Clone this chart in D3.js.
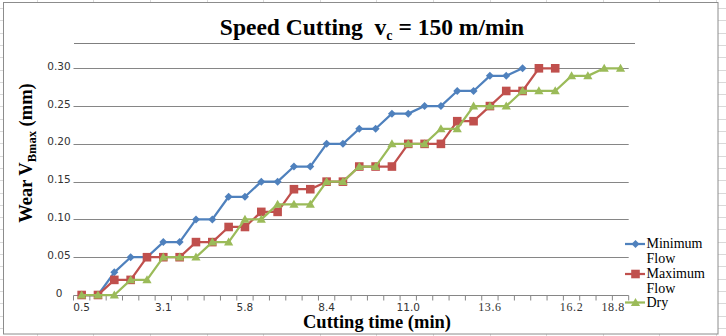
<!DOCTYPE html>
<html><head><meta charset="utf-8">
<script src="https://cdn.jsdelivr.net/npm/d3@7"></script>
<style>body{margin:0;background:#fff;} svg{display:block} text{white-space:pre}</style>
</head><body><svg id="c" width="726" height="336"></svg>
<script>
// ---- data ----
const categories = [0.5,1.0,1.6,2.1,2.6,3.1,3.6,4.2,4.7,5.2,5.8,6.3,6.8,7.3,7.9,8.4,8.9,9.4,10.0,10.5,11.0,11.5,12.0,12.6,13.1,13.6,14.1,14.7,15.2,15.7,16.2,16.7,17.3,17.8];
const minimumFlow = [0,0,0.03,0.05,0.05,0.07,0.07,0.10,0.10,0.13,0.13,0.15,0.15,0.17,0.17,0.20,0.20,0.22,0.22,0.24,0.24,0.25,0.25,0.27,0.27,0.29,0.29,0.30];
const maximumFlow = [0,0,0.02,0.02,0.05,0.05,0.05,0.07,0.07,0.09,0.09,0.11,0.11,0.14,0.14,0.15,0.15,0.17,0.17,0.17,0.20,0.20,0.20,0.23,0.23,0.25,0.27,0.27,0.30,0.30];
const dry = [0,0,0,0.02,0.02,0.05,0.05,0.05,0.07,0.07,0.10,0.10,0.12,0.12,0.12,0.15,0.15,0.17,0.17,0.20,0.20,0.20,0.22,0.22,0.25,0.25,0.25,0.27,0.27,0.27,0.29,0.29,0.30,0.30];
const seriesNames = ["Minimum Flow","Maximum Flow","Dry"];
const yTicks = [0,0.05,0.10,0.15,0.20,0.25,0.30];
const yTickLabels = ["0","0.05","0.10","0.15","0.20","0.25","0.30"];
const xTickLabels = ["0.5","3.1","5.8","8.4","11.0","13.6","16.2","18.8"];
const xTickAt = [0,5,10,15,20,25,30,32.55];

// ---- drawing ----
const svg = d3.select("#c");
const W = 726, H = 336;
const plot = {l:73.5, r:628.7, t:68.3, b:295};
const x = d3.scaleLinear().domain([-0.5, categories.length-0.5]).range([plot.l, plot.r]);
const y = d3.scaleLinear().domain([0, 0.30]).range([plot.b, plot.t]);
const SANS = "'DejaVu Sans',Verdana,sans-serif";
const SERIF = "'Liberation Serif','Times New Roman',serif";
const serifFrom = 5;

svg.append("rect").attr("width",W).attr("height",H).attr("fill","#fff");

// faint worksheet cell lines outside the chart frame
const rowYs = d3.range(8, H, 12.3);
const colXs = d3.range(36.7, W, 56.6);
const sheet = svg.append("g").attr("stroke","#d9d9d9").attr("stroke-width",1);
rowYs.forEach(v=>{
  sheet.append("line").attr("x1",0).attr("x2",3).attr("y1",Math.round(v)+0.5).attr("y2",Math.round(v)+0.5);
  sheet.append("line").attr("x1",718).attr("x2",W).attr("y1",Math.round(v)+0.5).attr("y2",Math.round(v)+0.5);
});
colXs.forEach(v=>{
  sheet.append("line").attr("y1",0).attr("y2",2).attr("x1",Math.round(v)+0.5).attr("x2",Math.round(v)+0.5);
  sheet.append("line").attr("y1",334).attr("y2",H).attr("x1",Math.round(v)+0.5).attr("x2",Math.round(v)+0.5);
});

// outer chart border
svg.append("rect").attr("x",3.5).attr("y",2.5).attr("width",714.5).attr("height",331.5)
  .attr("fill","none").attr("stroke","#8c8c8c").attr("stroke-width",1);

// title
const title = svg.append("text").attr("x",372).attr("y",35)
  .attr("text-anchor","middle").attr("font-family",SERIF)
  .attr("font-weight","bold").attr("font-size",23.5).attr("fill","#000");
title.append("tspan").text("Speed Cutting  v");
title.append("tspan").attr("font-size",14).attr("dy",5).text("c");
title.append("tspan").attr("dy",-5).text(" = 150 m/min");
svg.append("line").attr("x1",74).attr("x2",635).attr("y1",43.5).attr("y2",43.5)
  .attr("stroke","#7f7f7f").attr("stroke-width",1);

// gridlines
svg.append("g").selectAll("line").data(yTicks.slice(1)).join("line")
  .attr("x1",plot.l).attr("x2",plot.r)
  .attr("y1",d=>Math.round(y(d))+0.5).attr("y2",d=>Math.round(y(d))+0.5)
  .attr("stroke","#868686").attr("stroke-width",1);

// y labels
svg.append("g").selectAll("text").data(yTicks).join("text")
  .attr("x",59).attr("y",d=>y(d)+1.5).attr("text-anchor","middle")
  .attr("font-family",SANS).attr("font-size",10.5).attr("fill","#333")
  .text((d,i)=>yTickLabels[i]);

// x axis line and ticks
const ay = Math.round(plot.b)+0.5;
svg.append("line").attr("x1",plot.l).attr("x2",plot.r).attr("y1",ay).attr("y2",ay)
  .attr("stroke","#868686").attr("stroke-width",1);
svg.append("g").selectAll("line").data(d3.range(categories.length+1)).join("line")
  .attr("x1",d=>x(d-0.5)).attr("x2",d=>x(d-0.5)).attr("y1",ay).attr("y2",ay+5)
  .attr("stroke","#868686").attr("stroke-width",1);
svg.append("g").selectAll("text").data(xTickLabels).join("text")
  .attr("x",(d,i)=>x(xTickAt[i])).attr("y",(d,i)=>i>=serifFrom?311:310.5).attr("text-anchor","middle")
  .attr("font-family",(d,i)=>i>=serifFrom?SERIF:SANS).attr("font-size",(d,i)=>i>=serifFrom?12:10.5)
  .attr("letter-spacing",(d,i)=>i>=serifFrom?0.6:0).attr("fill","#333")
  .text(d=>d);

// axis titles
svg.append("text").attr("x",377).attr("y",328).attr("text-anchor","middle")
  .attr("font-family",SERIF).attr("font-weight","bold")
  .attr("font-size",18.5).attr("fill","#000").text("Cutting time (min)");
const yt = svg.append("text").attr("transform","translate(32,153) rotate(-90)").attr("text-anchor","middle")
  .attr("font-family",SERIF).attr("font-weight","bold")
  .attr("font-size",18.5).attr("fill","#000");
yt.append("tspan").text("Wear V");
yt.append("tspan").attr("font-size",12.5).attr("dy",4).text("Bmax");
yt.append("tspan").attr("dy",-4).text(" (mm)");

// series
const markers = {
  diamond: "M0,-4L4,0L0,4L-4,0Z",
  square: "M-4.3,-4.3H4.3V4.3H-4.3Z",
  triangle: "M0,-4.6L4.6,3.4L-4.6,3.4Z"
};
const series = [
  {name:seriesNames[0], values:minimumFlow, color:"#4F81BD", marker:markers.diamond},
  {name:seriesNames[1], values:maximumFlow, color:"#C0504D", marker:markers.square},
  {name:seriesNames[2], values:dry, color:"#9BBB59", marker:markers.triangle}
];
const line = d3.line().x((d,i)=>x(i)).y(d=>y(d));
series.forEach(s=>{
  const g = svg.append("g");
  g.append("path").attr("d",line(s.values)).attr("fill","none").attr("stroke",s.color)
    .attr("stroke-width",2.25).attr("stroke-linejoin","round");
  g.selectAll("path.m").data(s.values).join("path").attr("class","m")
    .attr("d",s.marker).attr("transform",(d,i)=>`translate(${x(i)},${y(d)})`).attr("fill",s.color);
});

// legend
const legendLines = [["Minimum","Flow"],["Maximum","Flow"],["Dry"]];
const legendY = [244, 274, 302.5];
series.forEach((s,i)=>{
  const g = svg.append("g");
  g.append("line").attr("x1",625).attr("x2",645).attr("y1",legendY[i]).attr("y2",legendY[i])
    .attr("stroke",s.color).attr("stroke-width",2.25);
  g.append("path").attr("d",s.marker).attr("transform",`translate(635.5,${legendY[i]})`).attr("fill",s.color);
  legendLines[i].forEach((t,j)=>{
    g.append("text").attr("x",646.5).attr("y",legendY[i]+4+j*14.5)
      .attr("font-family",SERIF).attr("font-size",14)
      .attr("fill","#000").text(t);
  });
});
</script></body></html>
